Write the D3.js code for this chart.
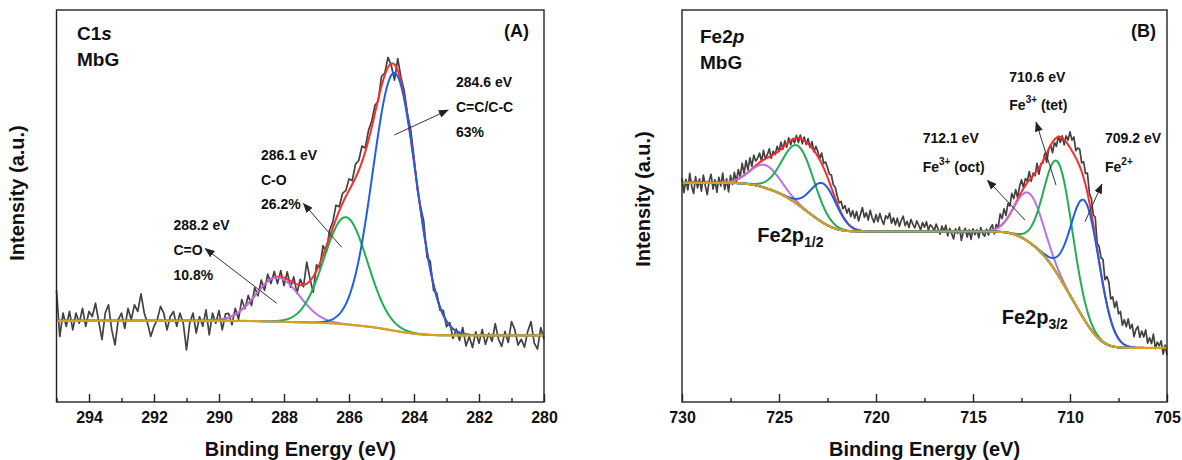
<!DOCTYPE html>
<html>
<head>
<meta charset="utf-8">
<script src="https://cdn.jsdelivr.net/npm/d3@7"></script>
<style>
  body { margin: 0; background: #fff; }
  svg text { font-family: Arial, "Liberation Sans", sans-serif; font-weight: bold; fill: #111; }
</style>
</head>
<body>
<svg id="chart" width="1182" height="460"></svg>
<script>
// ---------------- C 1s spectrum (binding energy 295.0 -> 280.0 eV, 0.1 eV steps) ----------------
const c1sStart = 295.0;
const c1sStep = -0.1;
const c1sCounts = [
  28.6, 16.7, 22.7, 19.3, 23.1, 18.4, 22.7, 20.1, 23.9, 19.3,
  23.1, 21.8, 25.2, 20.5, 15.9, 22.7, 24.8, 18.4, 14.6, 21.0,
  22.7, 18.8, 23.9, 21.0, 24.8, 23.1, 27.6, 22.7, 20.1, 16.7,
  19.3, 21.0, 24.4, 22.7, 18.4, 21.8, 23.1, 19.3, 22.7, 20.1,
  13.3, 20.1, 22.7, 17.6, 21.8, 19.3, 23.5, 17.1, 22.7, 20.1,
  23.3, 18.4, 22.5,
  22.6, 19.7, 23.9, 21.1, 26.1, 23.8, 27.2, 24.6, 29.2, 27.1,
  31.1, 28.5, 32.6, 30.2, 33.3, 30.2, 33.5, 29.7,
  33.2, 29.3, 31.9, 27.7, 31.3, 29.4, 35.7, 31.4, 28.0, 35.0,
  34.3, 39.9, 38.2, 43.8, 45.9, 50.2, 49.8, 53.2, 53.9, 56.9,
  56.5, 60.7, 61.6, 65.3, 64.8, 69.3, 71.7, 75.7, 76.8, 83.1,
  83.9, 87.9, 85.9, 82.1, 87.6, 82.8, 79.4, 73.5, 69.4, 62.4,
  54.3, 49.8, 46.1, 36.9, 35.9, 28.5, 27.8, 23.4, 23.4, 19.2,
  20.3, 16.2, 18.6, 15.7, 19.0, 14.3, 16.7, 13.9, 17.9, 15.0,
  18.5, 14.7, 17.5, 15.5, 20.0, 16.0, 14.2, 18.0, 15.2, 20.5,
  18.5, 14.5, 16.0, 14.0, 18.0, 20.5, 15.0, 13.5, 19.0, 16.0
];
// fitted C 1s components
const c1sLabels  = ["C=C/C-C", "C-O", "C=O"];
const c1sCenters = [284.6, 286.1, 288.2];   // eV
const c1sShares  = [63, 26.2, 10.8];        // % of fitted area
const c1sFwhm    = [1.566, 1.566, 1.566];   // eV
const c1sArea    = 174;                     // total fitted peak area
const c1sBgHigh  = 20.7;                    // Shirley background, high-BE side
const c1sBgLow   = 17.0;                    // Shirley background, low-BE side
const c1sTicks      = [294, 292, 290, 288, 286, 284, 282, 280];
const c1sMinorTicks = [295, 293, 291, 289, 287, 285, 283, 281];

// ---------------- Fe 2p spectrum (730.0 -> 705.0 eV, 0.1 eV steps) ----------------
const feStart = 730.0;
const feStep = -0.1;
const feCounts = [
  57.2, 53.4, 56.8, 54.1, 58.3, 55.0, 53.2, 57.5, 54.6, 56.9,
  53.8, 57.9, 55.2, 52.9, 56.4, 58.1, 54.3, 56.7, 53.5, 57.3,
  55.1, 58.4, 54.2, 56.9, 53.6, 57.8, 55.5, 58.6, 56.0, 59.3,
  57.4, 60.9, 58.3, 61.6, 59.2, 62.3, 60.1, 63.0, 61.5, 62.2,
  63.5, 61.4, 64.2, 62.0, 63.1, 64.6, 62.2, 64.0, 63.1, 65.2,
  63.9, 66.3, 64.5, 66.6, 65.0, 67.4, 65.6, 67.2, 66.1, 68.0,
  66.2, 68.1, 65.9, 67.6, 65.7, 67.2, 64.9, 66.4, 63.8, 65.2,
  63.9, 62.1, 63.5, 60.9, 61.2, 59.8, 58.1, 57.9, 55.4, 54.8,
  52.6, 50.8, 51.2, 49.3, 50.1, 48.2, 49.4, 47.3, 48.8, 46.9,
  48.6, 46.2, 47.9, 49.6, 47.1, 48.3, 46.4, 48.9, 47.0, 45.8,
  47.8, 46.0, 48.1, 46.4, 45.3, 47.5, 46.8, 48.2, 45.6, 47.0,
  45.2, 46.9, 44.8, 46.3, 47.4, 45.0, 46.1, 44.5, 46.6, 45.3,
  44.4, 46.2, 45.1, 43.9, 45.8, 44.6, 46.0, 43.8, 45.2, 44.7,
  43.6, 45.4, 44.1, 42.8, 44.9, 43.5, 45.1, 42.4, 44.3, 43.0,
  41.6, 44.2, 43.0, 44.6, 41.2, 43.5, 44.3, 42.1, 43.9, 41.5,
  44.2, 42.7, 43.9, 41.9, 44.5, 43.0, 42.3, 44.1, 42.6, 44.4,
  45.2, 42.9, 45.3, 44.4, 48.0, 46.8, 49.3, 47.6, 50.6, 50.0,
  53.2, 51.9, 54.2, 52.1, 55.0, 56.7, 54.7, 57.0, 56.3, 58.8,
  56.3, 58.4, 57.7, 60.9, 58.1, 60.8, 60.9, 63.4, 61.1, 64.5,
  65.6, 63.6, 66.2, 65.2, 67.8, 66.2, 67.9, 65.6, 67.9, 66.8,
  68.9, 66.8, 67.6, 64.1, 64.8, 64.5, 61.0, 61.3, 58.3, 58.4,
  53.2, 51.9, 47.7, 47.2, 40.5, 39.7, 36.8, 36.4, 31.2, 32.0,
  30.6, 26.3, 26.8, 24.1, 25.7, 22.5, 23.1, 19.6, 21.0, 19.2,
  21.2, 18.7, 19.8, 16.7, 18.5, 19.3, 16.5, 18.1, 16.6, 18.4,
  15.0, 16.4, 14.9, 17.3, 13.6, 15.3, 14.3, 15.6, 12.2, 14.5,
  11.9
];
// fitted Fe 2p3/2 components
const fe32Labels  = ["Fe3+ (oct)", "Fe3+ (tet)", "Fe2+"];
const fe32Centers = [712.1, 710.6, 709.2];
const fe32Heights = [12.5, 28.8, 30.5];
const fe32Fwhm    = [1.7, 1.7, 1.75];
// fitted Fe 2p1/2 components
const fe12Centers = [725.7, 724.0, 722.7];
const fe12Heights = [5.8, 15.0, 10.0];
const fe12Fwhm    = [1.8, 1.9, 1.6];
// Shirley background levels: high-BE end, plateau between the doublet, low-BE end
const feBgLevels  = [55.9, 43.5, 13.8];
const feTicks      = [730, 725, 720, 715, 710, 705];
const feMinorTicks = [727.5, 722.5, 717.5, 712.5, 707.5];

// ---------------- styling ----------------
const COLORS = {
  raw: "#424242",
  envelope: "#ff2a2a",
  background: "#d6a11c",
  purple: "#b772e8",
  green: "#1fae52",
  blue: "#1f5fe6",
  ink: "#222"
};
const Y_TOP = 10, Y_BOTTOM = 402;

const svg = d3.select("#chart");

// arrowhead marker for the peak annotations
svg.append("defs").append("marker")
  .attr("id", "arrowhead")
  .attr("markerUnits", "userSpaceOnUse")
  .attr("viewBox", "0 0 10 8")
  .attr("refX", 9.5).attr("refY", 4)
  .attr("markerWidth", 10).attr("markerHeight", 8)
  .attr("orient", "auto")
  .append("path").attr("d", "M0,0 L10,4 L0,8 Z").attr("fill", "#222");

// ---------------- peak model helpers ----------------
const SQRT2PI = Math.sqrt(2 * Math.PI);
const FWHM_TO_SIGMA = 1 / (2 * Math.sqrt(2 * Math.LN2));
function erf(v) {
  const s = Math.sign(v); v = Math.abs(v);
  const t = 1 / (1 + 0.3275911 * v);
  const p = ((((1.061405429 * t - 1.453152027) * t + 1.421413741) * t - 0.284496736) * t + 0.254829592) * t;
  return s * (1 - p * Math.exp(-v * v));
}
const normCdf = z => 0.5 * (1 + erf(z / Math.SQRT2));

// groups: [{centers, heights, fwhm, step, colors}] ; background rises by `step`
// across each group in proportion to the cumulative peak area (Shirley type).
function buildModel(groups, lowLevel) {
  const comps = [];
  groups.forEach(g => {
    g.sig = g.fwhm.map(f => f * FWHM_TO_SIGMA);
    g.area = g.heights.map((h, i) => h * g.sig[i] * SQRT2PI);
    g.total = d3.sum(g.area);
    g.centers.forEach((c, i) => comps.push({ c, h: g.heights[i], s: g.sig[i], color: g.colors[i] }));
  });
  const background = E => lowLevel + d3.sum(groups, g =>
    g.step * d3.sum(g.centers, (c, i) => g.area[i] * normCdf((E - c) / g.sig[i])) / g.total);
  const peak = (p, E) => p.h * Math.exp(-((E - p.c) ** 2) / (2 * p.s * p.s));
  return { comps, background, peak };
}

const c1sSigma = c1sFwhm.map(f => f * FWHM_TO_SIGMA);
const c1sHeights = c1sShares.map((s, i) => c1sArea * s / 100 / (c1sSigma[i] * SQRT2PI));

const panels = [
  {
    domain: [295, 280], range: [56.5, 544],
    ticks: c1sTicks, minor: c1sMinorTicks,
    start: c1sStart, step: c1sStep, counts: c1sCounts,
    model: buildModel([
      { centers: c1sCenters, heights: c1sHeights, fwhm: c1sFwhm, step: c1sBgHigh - c1sBgLow,
        colors: [COLORS.blue, COLORS.green, COLORS.purple] }
    ], c1sBgLow),
    drawOrder: [2, 1, 0]
  },
  {
    domain: [730, 705], range: [682, 1167],
    ticks: feTicks, minor: feMinorTicks,
    start: feStart, step: feStep, counts: feCounts,
    model: buildModel([
      { centers: fe12Centers, heights: fe12Heights, fwhm: fe12Fwhm, step: feBgLevels[0] - feBgLevels[1],
        colors: [COLORS.purple, COLORS.green, COLORS.blue] },
      { centers: fe32Centers, heights: fe32Heights, fwhm: fe32Fwhm, step: feBgLevels[1] - feBgLevels[2],
        colors: [COLORS.purple, COLORS.green, COLORS.blue] }
    ], feBgLevels[2]),
    drawOrder: [0, 3, 1, 4, 2, 5]
  }
];

panels.forEach(p => {
  const x = d3.scaleLinear().domain(p.domain).range(p.range);
  const y = d3.scaleLinear().domain([0, 100]).range([Y_BOTTOM, Y_TOP]);
  const g = svg.append("g");

  const line = d3.line().x(d => x(d[0])).y(d => y(d[1]));

  // measured spectrum
  const raw = p.counts.map((v, i) => [p.start + p.step * i, v]);
  g.append("path").datum(raw)
    .attr("fill", "none").attr("stroke", COLORS.raw)
    .attr("stroke-width", 1.7).attr("stroke-linejoin", "round")
    .attr("d", line);

  // fitted curves sampled on a fine energy grid
  const lo = Math.min(...p.domain), hi = Math.max(...p.domain);
  const grid = d3.range(lo, hi + 1e-9, 0.02);
  const m = p.model;
  const envelope = grid.map(E => [E, m.background(E) + d3.sum(m.comps, c => m.peak(c, E))]);
  g.append("path").datum(envelope)
    .attr("fill", "none").attr("stroke", COLORS.envelope).attr("stroke-width", 2)
    .attr("d", line);

  p.drawOrder.forEach(k => {
    const c = m.comps[k];
    g.append("path").datum(grid.map(E => [E, m.background(E) + m.peak(c, E)]))
      .attr("fill", "none").attr("stroke", c.color).attr("stroke-width", 2)
      .attr("d", line);
  });

  g.append("path").datum(grid.map(E => [E, m.background(E)]))
    .attr("fill", "none").attr("stroke", COLORS.background).attr("stroke-width", 2.2)
    .attr("d", line);

  // frame
  g.append("rect")
    .attr("x", p.range[0]).attr("y", Y_TOP)
    .attr("width", p.range[1] - p.range[0]).attr("height", Y_BOTTOM - Y_TOP)
    .attr("fill", "none").attr("stroke", COLORS.ink).attr("stroke-width", 1.4);

  // bottom axis with inward ticks
  const axis = g.append("g").attr("transform", `translate(0,${Y_BOTTOM})`)
    .call(d3.axisBottom(x).tickValues(p.ticks).tickSize(-8).tickPadding(10).tickFormat(d3.format("d")));
  axis.select(".domain").remove();
  axis.selectAll(".tick line").attr("stroke", COLORS.ink).attr("stroke-width", 1.4);
  axis.selectAll(".tick text").attr("font-size", 16).attr("fill", "#111")
    .attr("font-family", 'Arial, "Liberation Sans", sans-serif').attr("font-weight", "bold");

  const minorAxis = g.append("g").attr("transform", `translate(0,${Y_BOTTOM})`)
    .call(d3.axisBottom(x).tickValues(p.minor).tickSize(-4).tickFormat(""));
  minorAxis.select(".domain").remove();
  minorAxis.selectAll(".tick line").attr("stroke", COLORS.ink).attr("stroke-width", 1.4);

  // axis titles
  const cx = (p.range[0] + p.range[1]) / 2;
  g.append("text").attr("x", cx).attr("y", 456).attr("text-anchor", "middle")
    .attr("font-size", 20).text("Binding Energy (eV)");
});

// y-axis titles
[[24, 193], [649.5, 199]].forEach(([tx, ty]) => {
  svg.append("text").attr("transform", `translate(${tx},${ty}) rotate(-90)`)
    .attr("text-anchor", "middle").attr("font-size", 20).text("Intensity (a.u.)");
});

// panel titles
function title(xp, yp, main, ital) {
  const t = svg.append("text").attr("x", xp).attr("y", yp).attr("font-size", 19);
  t.append("tspan").text(main);
  t.append("tspan").attr("font-style", "italic").text(ital);
}
title(77, 40, "C1", "s");
svg.append("text").attr("x", 77).attr("y", 66).attr("font-size", 19).text("MbG");
title(700, 43, "Fe2", "p");
svg.append("text").attr("x", 700).attr("y", 69).attr("font-size", 19).text("MbG");
svg.append("text").attr("x", 529).attr("y", 37).attr("text-anchor", "end").attr("font-size", 18).text("(A)");
svg.append("text").attr("x", 1156).attr("y", 37).attr("text-anchor", "end").attr("font-size", 18).text("(B)");

// ---------------- peak annotations ----------------
const annA = [
  { x: 456, y: 87, gap: 25, lines: [`${c1sCenters[0]} eV`, c1sLabels[0], `${c1sShares[0]}%`], tail: [394.3, 135], head: [448.3, 110] },
  { x: 261, y: 160, gap: 24.5, lines: [`${c1sCenters[1]} eV`, c1sLabels[1], `${c1sShares[1]}%`], tail: [341.7, 247.3], head: [303.3, 203.3] },
  { x: 173.5, y: 230, gap: 25, lines: [`${c1sCenters[2]} eV`, c1sLabels[2], `${c1sShares[2]}%`], tail: [276.7, 303.3], head: [205, 248.3] }
];
annA.forEach(a => {
  a.lines.forEach((s, i) => svg.append("text").attr("x", a.x).attr("y", a.y + i * a.gap).attr("font-size", 14).text(s));
  svg.append("line").attr("x1", a.tail[0]).attr("y1", a.tail[1]).attr("x2", a.head[0]).attr("y2", a.head[1])
    .attr("stroke", "#333").attr("stroke-width", 1).attr("marker-end", "url(#arrowhead)");
});

// Fe ion labels with superscript charge
function ionLabel(xp, yp, ion, charge, rest) {
  const t = svg.append("text").attr("x", xp).attr("y", yp).attr("font-size", 14);
  t.append("tspan").text(ion);
  t.append("tspan").attr("font-size", 10).attr("dy", -7).text(charge);
  if (rest) t.append("tspan").attr("dy", 7).text(" " + rest);
}
const annB = [
  { x: 922.7, y: 143.3, center: fe32Centers[0], ion: ["Fe", "3+", "(oct)"], tail: [1025, 220], head: [987.3, 180] },
  { x: 1009.3, y: 81.7, center: fe32Centers[1], ion: ["Fe", "3+", "(tet)"], tail: [1056, 185], head: [1036, 122] },
  { x: 1105, y: 143.3, center: fe32Centers[2], ion: ["Fe", "2+", ""], tail: [1085, 221.7], head: [1102, 184] }
];
annB.forEach(a => {
  svg.append("text").attr("x", a.x).attr("y", a.y).attr("font-size", 14).text(`${a.center} eV`);
  ionLabel(a.x, a.y + 28.4, a.ion[0], a.ion[1], a.ion[2]);
  svg.append("line").attr("x1", a.tail[0]).attr("y1", a.tail[1]).attr("x2", a.head[0]).attr("y2", a.head[1])
    .attr("stroke", "#333").attr("stroke-width", 1).attr("marker-end", "url(#arrowhead)");
});

// spin-orbit doublet labels
function doubletLabel(xp, yp, sub) {
  const t = svg.append("text").attr("x", xp).attr("y", yp).attr("font-size", 20);
  t.append("tspan").text("Fe2p");
  t.append("tspan").attr("font-size", 14).attr("dy", 5).text(sub);
}
doubletLabel(757.3, 241.7, "1/2");
doubletLabel(1001.7, 324, "3/2");
</script>
</body>
</html>
